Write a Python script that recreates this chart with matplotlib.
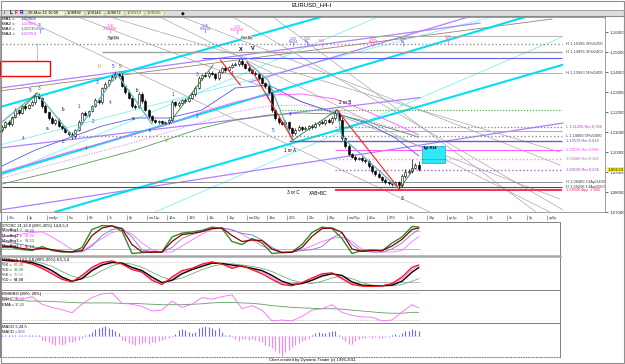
import numpy as np
import matplotlib.pyplot as plt
from matplotlib.patches import Rectangle
from matplotlib.lines import Line2D

plt.rcParams['font.family'] = ['Liberation Sans', 'DejaVu Sans']

W, H = 625, 364

# ---------------- price data (EURUSD H4, price x 10000) ----------------
closes = [11125, 11150, 11140, 11175, 11210, 11195, 11230, 11220, 11235, 11250,
          11280, 11270, 11230, 11200, 11170, 11145, 11160, 11130, 11120, 11100,
          11090, 11080, 11110, 11150, 11195, 11185, 11205, 11230, 11260, 11250,
          11320, 11340, 11360, 11375, 11390, 11380, 11330, 11300, 11270, 11230,
          11225, 11290, 11255, 11210, 11180, 11160, 11150, 11155, 11145, 11150,
          11160, 11250, 11235, 11245, 11260, 11255, 11270, 11290, 11320, 11370,
          11385, 11380, 11395, 11390, 11370, 11400, 11420, 11410, 11425, 11435,
          11440, 11455, 11440, 11420, 11410, 11395, 11390, 11370, 11345, 11330,
          11300, 11210, 11170, 11150, 11140, 11150, 11120, 11095, 11110, 11125,
          11115, 11120, 11130, 11125, 11140, 11150, 11145, 11160, 11150, 11170,
          11195, 11160, 11070, 11030, 10990, 10975, 10965, 10970, 10960, 10955,
          10930, 10905, 10890, 10875, 10860, 10850, 10845, 10840, 10850, 10835,
          10880, 10900, 10905, 10920, 10935, 10914]
first_open = 11110
upper_wick = [8, 6, 12, 5, 10, 6, 8, 12, 6, 9,
              10, 14, 5, 8, 6, 10, 5, 9, 6, 8,
              5, 10, 6, 8, 5, 9, 6, 7, 12, 8,
              6, 8, 5, 10, 12, 7, 15, 6, 8, 5,
              12, 10, 8, 9, 6, 5, 7, 4, 6, 5,
              8, 12, 6, 10, 5, 9, 6, 8, 10, 12,
              6, 14, 8, 10, 6, 8, 5, 12, 6, 8,
              10, 8, 9, 6, 8, 5, 10, 6, 9, 5,
              8, 12, 6, 9, 5, 10, 7, 6, 8, 12,
              6, 9, 5, 8, 10, 6, 12, 5, 9, 8,
              15, 10, 20, 6, 8, 5, 9, 6, 10, 5,
              7, 8, 6, 9, 5, 8, 6, 9, 5, 6,
              12, 15, 10, 45, 12, 20]
lower_wick = [10, 6, 8, 12, 5, 9, 6, 10, 7, 5,
              8, 6, 10, 7, 12, 6, 8, 5, 9, 7,
              10, 15, 8, 6, 9, 5, 8, 6, 7, 10,
              8, 5, 9, 6, 10, 8, 6, 12, 7, 9,
              8, 6, 10, 7, 12, 8, 6, 10, 5, 7,
              8, 6, 10, 8, 6, 9, 7, 5, 8, 6,
              10, 7, 9, 6, 12, 8, 6, 10, 7, 5,
              6, 8, 10, 7, 9, 6, 8, 10, 7, 12,
              9, 12, 8, 10, 7, 9, 12, 15, 8, 6,
              10, 7, 8, 9, 6, 10, 7, 8, 6, 9,
              8, 10, 12, 9, 10, 7, 9, 6, 8, 10,
              9, 8, 10, 7, 12, 9, 8, 10, 7, 20,
              8, 10, 12, 9, 7, 10]

# moving averages sampled along the bars
ma_idx = [0, 10, 20, 30, 40, 50, 60, 70, 80, 90, 100, 110, 118, 125]
ma1 = [1.0930, 1.1010, 1.1070, 1.1130, 1.1170, 1.1170, 1.1210, 1.1320, 1.1335, 1.1250, 1.1195, 1.1140, 1.1070, 1.0981]
ma2 = [1.0900, 1.0950, 1.1000, 1.1045, 1.1090, 1.1140, 1.1200, 1.1250, 1.1285, 1.1290, 1.1265, 1.1200, 1.1140, 1.1086]
ma3 = [1.0840, 1.0880, 1.0920, 1.0965, 1.1010, 1.1065, 1.1120, 1.1160, 1.1185, 1.1195, 1.1190, 1.1150, 1.1110, 1.1074]
ma4 = [1.0870, 1.0915, 1.0960, 1.1005, 1.1050, 1.1100, 1.1150, 1.1200, 1.1230, 1.1235, 1.1210, 1.1160, 1.1115, 1.1076]

# drawn trend lines (bar0, price0, bar1, price1)
cyan_thick = [(-0.6, 1.1225, 95.7, 1.1675), (-0.6, 1.0890, 156.9, 1.1675), (15.9, 1.0700, 168.0, 1.1435)]
cyan_thin = [(-0.6, 1.0880, 112.8, 1.1675), (-0.6, 1.1035, 147.0, 1.1675), (45.9, 1.0700, 168.0, 1.1575)]
violet_lines = [(-0.6, 1.1320, 143.4, 1.1645), (-0.6, 1.0710, 168.3, 1.1145),
                (-0.6, 1.1020, 125.4, 1.1272), (74.4, 1.1350, 141.9, 1.1685)]
brown_lines = [(-0.6, 1.1305, 165.0, 1.1665)]
gray_lines = [(5.4, 1.1675, 128.4, 1.0700), (22.8, 1.1675, 167.4, 1.0765), (32.4, 1.1675, 167.4, 1.1000),
              (54.0, 1.1675, 167.4, 1.0935), (47.4, 1.1675, 164.4, 1.0700), (69.3, 1.1675, 168.3, 1.0710),
              (81.3, 1.1675, 160.2, 1.0700)]

# horizontal levels
h_prices = [1.1580, 1.1540, 1.1500, 1.1470, 1.1395, 1.1210, 1.1125, 1.1105,
            1.1080, 1.1055, 1.1010, 1.0965, 1.0910, 1.0850, 1.0825, 1.0810]
h_start = [89, 0, 30, 60, 33, 84, 100, 100, 22, 86, 100, 100, 100, 0, 0, 100]
h_labels = ["", "H 1,15396 3Fb/1200", "H 1,14996 3Fb/2400", "", "H 1,13963 5Fb/2400", "",
            "L 1,11250 Ret 0,786", "", "L 1,10800 5Pb/2400", "1,10570 Ret 0,618",
            "1,10125 Ret 0,500", "1,09680 Ret 0,382", "1,09130 Ret 0,236",
            "H 1,08489 13Ap/2400", "H 1,08206 13Ap/2000", "1,08049 App. 1,000"]

# wave swing lines (bar, price)
teal_paths = [[(0, 1.1150), (10.5, 1.1295), (21.3, 1.1075), (34.5, 1.1390), (45.0, 1.1140)],
              [(73.5, 1.1450), (79.8, 1.1360), (87.3, 1.1050)],
              [(100.5, 1.1210), (102.0, 1.1075), (118.8, 1.0820)]]
green_paths = [[(-0.6, 1.1100), (10.5, 1.1295)], [(50.4, 1.1150), (63.3, 1.1435)],
               [(87.3, 1.1060), (100.5, 1.1210)], [(119.4, 1.0820), (123.3, 1.0910)]]
red_paths = [[(73.5, 1.1450), (87.3, 1.1060)], [(100.5, 1.1210), (119.4, 1.0810)],
             [(65.5, 1.1460), (71.5, 1.1335)]]

# wave labels (bar, price, text, colour)
wave_labels = [(8.4, 1.1305, "5", "b"), (11.1, 1.1320, "3", "g"), (6.3, 1.1065, "4", "b"),
               (13.5, 1.1120, "a", "k"), (18.3, 1.1215, "b", "k"), (18.3, 1.1055, "c", "k"),
               (25.2, 1.1020, "4", "g"), (23.1, 1.1225, "1", "b"), (27.3, 1.1155, "2", "b"),
               (28.5, 1.1345, "3", "b"), (32.4, 1.1250, "4", "b"), (33.3, 1.1425, "5", "b"),
               (35.4, 1.1425, "5", "g"), (29.4, 1.1425, "III", "o"), (39.3, 1.1170, "a", "k"),
               (40.5, 1.1310, "b", "k"), (44.4, 1.1105, "c", "k"), (49.5, 1.1060, "IV", "o"),
               (51.3, 1.1290, "1", "b"), (58.5, 1.1180, "2", "b"), (58.5, 1.1385, "3", "b"),
               (69.0, 1.1395, "4", "b"), (79.8, 1.1275, "1", "b"), (86.4, 1.1185, "4", "b"),
               (81.3, 1.1110, "5", "b"), (71.6, 1.1515, "X", "K"), (75.3, 1.1518, "V", "K"),
               (86.4, 1.1010, "1 or A", "k"), (102.9, 1.1250, "2 or B", "k"),
               (120.0, 1.0770, "3", "k"), (87.3, 1.0800, "3 or C", "k"), (94.8, 1.0795, "XAB=BC", "k")]

# small fib markers along the top
top_marks = [(11.4, 1.1625, "1E\n2Fbm", "b"), (32.4, 1.1625, "1,16\n3Fb2400", "p"),
             (60.9, 1.1625, "1,16\n0Fb/24", "b"), (70.5, 1.1620, "1,15\n3Fb1200", "p"),
             (87.3, 1.1560, "1,15\nFb/24", "b"), (91.5, 1.1560, "1,15\nFb", "b"),
             (96.0, 1.1555, "Fb2", "p"), (111.3, 1.1560, "1,15\nFb/24", "p"),
             (120.3, 1.1560, "1,15\nFb", "b"), (133.8, 1.1570, "1,15\nFb", "p")]
tag_marks = [(33.3, 1.1570, "Tgt Dn"), (73.5, 1.1570, "Ovr Dn")]

red_box = (-0.6, 1.1380, 14.4, 1.1455)
tgt_box = (126.0, 1.0945, 133.0, 1.1030)
current_price = 1.09139

price_ticks = [1.07, 1.08, 1.09, 1.10, 1.11, 1.12, 1.13, 1.14, 1.15, 1.16]
day_labels = ["28c", "1p", "ma4p", "5w", "6S", "7c", "8p", "ma11p", "12w", "13S", "14c", "15p",
              "ma18p", "19w", "20S", "21c", "22p", "ma25p", "26w", "27S", "28c", "29p",
              "ap1p", "2w", "3S", "4c", "5p", "ap8p"]

# indicators, sampled every 3 bars
ind_x = list(range(0, 124, 3)) + [125]
stoc_green = [25, 25, 18, 15, 28, 15, 10, 10, 25, 85, 98, 97, 80, 5, 8, 10, 10, 60, 73, 77, 82, 93,
              88, 45, 35, 55, 40, 5, 8, 10, 35, 75, 93, 88, 55, 5, 15, 17, 14, 40, 60, 95, 93]
stoc_red = [30, 28, 22, 18, 22, 18, 12, 10, 15, 65, 90, 97, 88, 35, 10, 9, 10, 45, 68, 72, 78, 88,
            90, 65, 45, 50, 48, 20, 8, 9, 25, 62, 88, 90, 75, 20, 12, 15, 15, 30, 52, 85, 90]
stoc_blue = [45, 40, 35, 28, 22, 18, 14, 10, 10, 30, 65, 85, 90, 60, 17, 12, 10, 25, 55, 68, 78, 90,
             90, 83, 72, 67, 50, 25, 10, 10, 15, 18, 28, 57, 73, 35, 12, 10, 10, 20, 40, 70, 84]
stoc_mag = [60, 65, 70, 75, 77, 60, 40, 18, 12, 35, 55, 75, 83, 70, 40, 17, 10, 10, 30, 50, 70, 85,
            90, 85, 70, 50, 30, 18, 10, 10, 18, 30, 45, 55, 60, 45, 20, 10, 10, 10, 15, 45, 61]
dts_black = [88, 85, 83, 80, 70, 55, 35, 22, 30, 55, 72, 80, 78, 65, 55, 35, 18, 25, 45, 58, 68, 78,
             77, 72, 68, 62, 55, 40, 22, 12, 15, 25, 38, 45, 40, 20, 10, 8, 8, 10, 22, 50, 64]
dts_red = [90, 88, 82, 75, 62, 45, 28, 20, 40, 65, 80, 85, 75, 58, 50, 25, 12, 35, 55, 62, 75, 82,
           75, 62, 70, 58, 45, 28, 12, 8, 18, 32, 45, 48, 30, 12, 7, 6, 8, 15, 35, 65, 72]
dts_mag = [86, 86, 84, 78, 66, 50, 32, 22, 34, 60, 76, 82, 78, 62, 52, 30, 16, 30, 50, 60, 72, 80,
           76, 66, 68, 60, 50, 34, 16, 10, 16, 28, 42, 46, 34, 16, 8, 7, 8, 12, 30, 58, 70]
dts_green = [80, 84, 86, 84, 78, 68, 52, 38, 30, 38, 55, 70, 78, 75, 65, 50, 35, 25, 32, 45, 58, 68,
             75, 76, 72, 68, 62, 52, 38, 25, 18, 15, 22, 32, 38, 30, 18, 10, 8, 8, 12, 22, 30]
rsi = [62, 70, 66, 72, 55, 48, 43, 36, 55, 70, 78, 80, 57, 55, 50, 40, 42, 62, 48, 55, 70, 66,
       72, 76, 45, 52, 42, 18, 20, 18, 28, 42, 45, 54, 37, 30, 27, 26, 18, 20, 38, 54, 47]
rsi_ema = [65, 64, 63, 62, 62, 61, 60, 59, 58, 58, 58, 58, 57, 57, 56, 55, 54, 54, 54, 55, 56, 58,
           59, 59, 58, 57, 55, 52, 50, 48, 47, 46, 45, 45, 44, 42, 40, 38, 36, 35, 35, 37, 37]
# MACD histogram, one value per bar
macd_hist = [1, 1, 1, 1, 1, 1, 1, 1, 1, 1, 1, 1,
             -4, -6, -7, -9, -10, -9, -10, -9, -7, -7, -6, -4, -2,
             1, 2, 4, 7, 8, 9, 10, 8, 7, 5, 3,
             -4, -6, -8, -9, -10, -9, -8, -7, -9, -7, -7, -6, -4, -3, -2, -1,
             2, 6, 7, 6, 4, 3, 4, 8, 9, 10, 9, 8, 6, 8, 4, 1, 0.5,
             -1, -3, -6, -3, -3, -5, -3, -4, -6, -7, -10, -11, -13, -16, -18, -21, -17, -15, -12, -10,
             -8, -6, -4, -3,
             1, 3, 4, 3, 3, 4, 5, 5, 1,
             -3, -6, -9, -9, -6, -3, -2, -2, -1, -2, -1, -2, -2, -1, -1,
             1, 2, 1, 3, 5, 5, 7, 6, 5]

# ---------------- figure ----------------
fig = plt.figure(figsize=(W / 100, H / 100), dpi=100)
fig.patch.set_facecolor('white')


def px_axes(x0, y0, x1, y1):
    return fig.add_axes([x0 / W, 1 - y1 / H, (x1 - x0) / W, (y1 - y0) / H])


def px_text(x, y, s, **kw):
    kw.setdefault('fontsize', 3.5)
    kw.setdefault('va', 'center')
    fig.text(x / W, 1 - y / H, s, **kw)


def px_line(x0, y0, x1, y1, **kw):
    fig.add_artist(Line2D([x0 / W, x1 / W], [1 - y0 / H, 1 - y1 / H], transform=fig.transFigure, **kw))


# title and toolbar
px_text(312, 4.5, "EURUSD_H4-I", fontsize=4.3, ha='center')
fig.add_artist(Rectangle((0, 1 - 16 / H), 1, 6 / H, transform=fig.transFigure, fc='#dcdcdc', ec='none'))
px_line(0, 10, W, 10, color='#9a9a9a', lw=0.6)
px_line(0, 16.3, W, 16.3, color='#8a8a8a', lw=0.8)
px_text(4, 13, "ı", color='k', fontsize=3.5)
px_text(10, 13, "L", color='k', fontsize=3.5, weight='bold')
px_text(15, 13, "F", color='#d00000', fontsize=3.5, weight='bold')
px_text(20, 13, "R", color='#0000c0', fontsize=3.5, weight='bold')
status = ["28-Mar-15 16:00", "1,08992", "1,09144", "1,08672", "1,09139", "1,08106"]
status_x = [27, 66, 86, 106, 126, 146]
status_w = [38, 18, 18, 18, 18, 18]
status_col = ['k', 'k', 'k', 'k', '#008000', '#008000']
for s, x, w, c in zip(status, status_x, status_w, status_col):
    fig.add_artist(Rectangle((x / W, 1 - 15.5 / H), w / W, 5 / H, transform=fig.transFigure,
                             fc='#f4f4d0', ec='#a0a0a0', lw=0.3))
    px_text(x + 1, 13, s, color=c, fontsize=3)
px_text(181, 13, "◆", fontsize=3.5)

# ---------------- main price panel ----------------
ax = px_axes(0, 17, 605, 212)
ax.set_xlim(-0.6, 180.9)
ax.set_ylim(1.07, 1.1675)
ax.set_xticks([])
ax.yaxis.tick_right()
ax.set_yticks(price_ticks)
ax.set_yticklabels([f"{p:.5f}".replace('.', ',') for p in price_ticks])
ax.tick_params(axis='y', length=2, width=0.5, labelsize=3.2, pad=1, colors='#303030')
for sp in ax.spines.values():
    sp.set_color('#909090')
    sp.set_linewidth(0.6)


def seg(lines, **kw):
    for x0, p0, x1, p1 in lines:
        ax.plot([x0, x1], [p0, p1], **kw)


seg(gray_lines, color='#a8a8a8', lw=0.5, zorder=1)
seg(cyan_thin, color='#80f0f0', lw=0.6, zorder=1)
seg(violet_lines, color='#b080ff', lw=0.9, zorder=1)
seg(brown_lines, color='#a08070', lw=0.6, zorder=1)
seg(cyan_thick, color='#00e0f0', lw=1.5, zorder=2)

h_styles = [('#a8a8a8', '-', 0.6), ('#909090', ':', 1.0), ('#a0a0a0', '-', 1.0), ('#6060f0', '-', 0.8),
            ('#a0a0a0', '-', 0.6), ('#40a040', ':', 0.8), ('#b060d0', ':', 0.9), ('#a0a0a0', '-', 0.6),
            ('#909090', ':', 1.0), ('#6a5acd', '-', 1.0), ('#ff60ff', '-', 0.8), ('#d8a0d8', ':', 1.0),
            ('#b060d0', ':', 1.0), ('#808080', '-', 0.6), ('#207020', '-', 0.8), ('#ff3060', '-', 1.5)]
h_label_col = ['k', '#404040', '#404040', 'k', '#404040', 'k', '#b040c0', 'k', '#404040', '#7050d0',
               '#ff40ff', '#c070c0', '#a040c0', '#404040', '#404040', '#ff3070']
for p, x0, lab, (c, ls, lw), lc in zip(h_prices, h_start, h_labels, h_styles, h_label_col):
    ax.hlines(p, x0, 168.0, colors=c, linestyles=ls, lw=lw, zorder=2)
    if lab:
        ax.text(169.2, p, lab, fontsize=2.9, va='center', color=lc)

# moving averages
ax.plot(ma_idx, ma1, color='#5a5ae6', lw=0.6, zorder=3)
ax.plot(ma_idx, ma2, color='#ff55ff', lw=0.6, zorder=3)
ax.plot(ma_idx, ma3, color='#5a9a5a', lw=0.6, zorder=3)
ax.plot(ma_idx, ma4, color='#c080ff', lw=0.7, ls=':', zorder=3)

# candles
c = np.array(closes) / 10000
o = np.array([first_open] + closes[:-1]) / 10000
hi = np.maximum(o, c) + np.array(upper_wick) / 10000
lo = np.minimum(o, c) - np.array(lower_wick) / 10000
x = np.arange(len(closes))
up = c >= o
ax.vlines(x, lo, hi, color='black', lw=0.5, zorder=4)
ax.bar(x[up], (c - o)[up], bottom=o[up], width=0.62, color='white', edgecolor='black', lw=0.4, zorder=5)
ax.bar(x[~up], (o - c)[~up], bottom=c[~up], width=0.62, color='black', edgecolor='black', lw=0.4, zorder=5)

# wave lines
for path in teal_paths:
    ax.plot(*zip(*path), color='#6ab8c0', lw=1.0, zorder=6)
for path in green_paths:
    ax.plot(*zip(*path), color='#208020', lw=0.6, zorder=6)
for path in red_paths:
    ax.plot(*zip(*path), color='#ff2020', lw=0.8, zorder=6)

lab_col = {'b': '#3030e0', 'g': '#208020', 'k': 'black', 'o': '#a0a000', 'K': 'black'}
for bx, bp, t, k in wave_labels:
    ax.text(bx, bp, t, fontsize=4 if k == 'K' else 3.3, color=lab_col[k], ha='center', va='center',
            weight='bold' if k == 'K' else 'normal', zorder=7)

mark_col = {'b': '#5050ff', 'p': '#ff40c0'}
for bx, bp, t, k in top_marks:
    ax.text(bx, bp, t, fontsize=2.6, color=mark_col[k], ha='center', va='center', linespacing=0.9, zorder=7)
    ax.vlines(bx, bp - 0.0028, bp - 0.0010, colors=mark_col[k], lw=0.4)
for bx, bp, t in tag_marks:
    ax.text(bx, bp, t, fontsize=2.6, color='black', ha='center', va='center',
            bbox=dict(fc='#e0e0e0', ec='none', pad=0.3), zorder=7)

ax.vlines(10.5, 1.1385, 1.1545, colors='#b8b8b8', lw=0.6, zorder=1)
ax.add_patch(Rectangle((red_box[0], red_box[1]), red_box[2] - red_box[0], red_box[3] - red_box[1],
                       fill=True, fc='white', ec='red', lw=1.0, zorder=6))
ax.add_patch(Rectangle((tgt_box[0], tgt_box[1]), tgt_box[2] - tgt_box[0], tgt_box[3] - tgt_box[1],
                       fc='#30e8f8', ec='#20a0c0', lw=0.5, zorder=6))
ax.hlines(1.0965, tgt_box[0], tgt_box[2], colors='#208080', linestyles='--', lw=0.4, zorder=7)
ax.text(tgt_box[0] + 0.4, tgt_box[3] - 0.0012, "Tgt.Rt4", fontsize=3, weight='bold', va='center', zorder=7)

ax.annotate(f"{current_price:.5f}".replace('.', ','), xy=(1, current_price),
            xycoords=('axes fraction', 'data'), xytext=(2, 0), textcoords='offset points',
            fontsize=3.2, va='center', bbox=dict(fc='yellow', ec='none', pad=0.3))

# MA readouts
ma_txt = [("MA1 =", "1,09808", '#3030e0'), ("MA2 =", "1,10860", '#ff40ff'),
          ("MA3 =", "1,10735", '#208020'), ("MA4 =", "1,10763", '#c040ff')]
for k, (a, b, col) in enumerate(ma_txt):
    px_text(2, 19 + 5 * k, a, fontsize=3.2)
    px_text(21, 19 + 5 * k, b, fontsize=3.2, color=col)

# ---------------- date row ----------------
dax = px_axes(0, 212, 560, 222)
dax.set_xlim(-0.6, 167.4)
dax.set_ylim(0, 1)
dax.axis('off')
day_x = [1.5 + 6 * k for k in range(len(day_labels))]
dax.vlines(day_x, 0.2, 0.75, colors='#606060', lw=0.4)
for dx, lab in zip(day_x, day_labels):
    dax.text(dx + 0.6, 0.45, lab, fontsize=2.7, va='center', color='#303030')


def panel(y0, y1, ylim):
    p = px_axes(0, y0, 560, y1)
    p.set_xlim(-0.6, 167.4)
    p.set_ylim(*ylim)
    p.set_xticks([])
    p.set_yticks([])
    for sp in p.spines.values():
        sp.set_color('#808080')
        sp.set_linewidth(0.7)
    return p


# stochastic 1
s1 = panel(222, 256, (-3.3, 110))
s1.hlines([80, 20], -0.6, 125.5, colors='#b0b0b0', lw=0.6)
s1.plot(ind_x, stoc_mag, color='#ff70ff', lw=0.6)
s1.plot(ind_x, stoc_blue, color='#7878c8', lw=0.6)
s1.plot(ind_x, stoc_green, color='#2e8b2e', lw=1.0)
s1.plot(ind_x, stoc_red, color='#8b0000', lw=0.9)
px_text(2, 225.5, "STOSC 21,13,8 (80%-20%) 14,8,5,3", fontsize=3)
s1_txt = [("MovAvg1 =", "84,60", '#5050e0'), ("MovAvg2 =", "61,04", '#ff40ff'),
          ("MovAvg1 =", "91,53", '#208020'), ("MovAvg2 =", "95,14", '#8b0000')]
for k, (a, b, col) in enumerate(s1_txt):
    px_text(2, 230.5 + 5.2 * k, a, fontsize=2.9)
    px_text(25, 230.5 + 5.2 * k, b, fontsize=2.9, color=col)

# stochastic 2
s2 = panel(256, 290, (-5, 100))
s2.hlines(80, -0.6, 125.5, colors='#b0b0b0', lw=0.6, linestyles=':')
s2.hlines(20, -0.6, 125.5, colors='#b0b0b0', lw=0.6)
s2.plot(ind_x, dts_green, color='#70b070', lw=0.6)
s2.plot(ind_x, dts_mag, color='#ff70ff', lw=0.7)
s2.plot(ind_x, dts_black, color='black', lw=1.0)
s2.plot(ind_x, dts_red, color='#ff1010', lw=0.9)
s2.spines['top'].set_linewidth(1.8)
s2.spines['top'].set_color('#a8a8a8')
px_text(2, 259.5, "DTStoch 14,5,3,8 (80%-20%) 8,5,3,4", fontsize=3)
s2_txt = [("%K =", "67,20", '#ff2020'), ("%D =", "38,08", '#208020'),
          ("%K =", "70,50", '#ff40ff'), ("%D =", "64,08", 'black')]
for k, (a, b, col) in enumerate(s2_txt):
    px_text(2, 265 + 5 * k, a, fontsize=2.9)
    px_text(14, 265 + 5 * k, b, fontsize=2.9, color=col)

# RSI
r = panel(290, 323, (13.3, 86.7))
r.hlines([80, 20], -0.6, 125.5, colors='#b0b0b0', lw=0.6, linestyles=':')
r.plot(ind_x, rsi_ema, color='#60a060', lw=0.6)
r.plot(ind_x, rsi, color='#ff66ff', lw=0.6)
px_text(2, 293.5, "RSI/EBO (80%, 20%)", fontsize=3)
px_text(2, 299, "RSI =", fontsize=2.9)
px_text(15, 299, "40,79", fontsize=2.9, color='#ff40ff')
px_text(2, 304.5, "EMA =", fontsize=2.9)
px_text(15, 304.5, "37,43", fontsize=2.9, color='#208020')

# MACD
m = panel(323, 357, (-22, 13))
m.hlines(0, -0.6, 125.5, colors='#c0c0ff', lw=0.4, linestyles=':')
hist = np.array(macd_hist)
m.vlines(np.arange(len(hist)), 0, hist, colors=np.where(hist > 0, '#6a6aff', '#ff80ff'), lw=0.8)
m.spines['bottom'].set_linestyle(':')
px_text(2, 326.5, "MACD 5,34,5", fontsize=3)
px_text(2, 332, "MACD =", fontsize=2.9)
px_text(18, 332, "0,08", fontsize=2.9, color='#5050e0')

px_text(312, 359.5, "Chart created by Dynamic Trader (c) 1996-2011", fontsize=3, ha='center')

# outer frame
fig.add_artist(Rectangle((0.001, 0.002), 0.997, 0.996, transform=fig.transFigure, fill=False,
                         ec='#909090', lw=0.8))

fig.savefig('out.png', dpi=100)
